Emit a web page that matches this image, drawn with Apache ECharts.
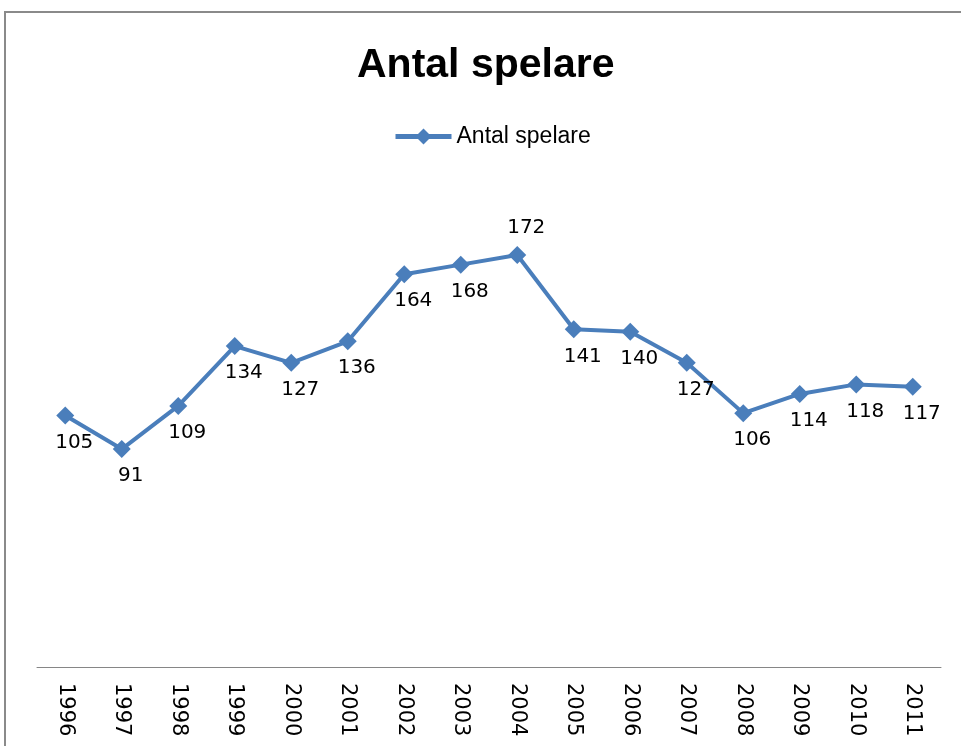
<!DOCTYPE html>
<html>
<head>
<meta charset="utf-8">
<script src="https://cdn.jsdelivr.net/npm/echarts@6/dist/echarts.min.js"></script>
<style>
  html, body { margin: 0; padding: 0; background: #fff; }
  #chart { width: 961px; height: 746px; }
</style>
</head>
<body>
<div id="chart"></div>
<script>
var years = ['1996', '1997', '1998', '1999', '2000', '2001', '2002', '2003',
             '2004', '2005', '2006', '2007', '2008', '2009', '2010', '2011'];
var players = [105, 91, 109, 134, 127, 136, 164, 168, 172, 141, 140, 127, 106, 114, 118, 117];
var labelAbove = ['2004'];

var chart = echarts.init(document.getElementById('chart'));

var points = players.map(function (v, i) {
    var item = { value: v };
    if (labelAbove.indexOf(years[i]) >= 0) {
        item.label = { position: 'top' };
    }
    return item;
});

var option = {
    backgroundColor: '#fff',
    animation: false,
    title: {
        text: 'Antal spelare',
        left: 352,
        top: 40,
        textStyle: {
            fontFamily: 'Liberation Sans',
            fontWeight: 'bold',
            fontSize: 41,
            color: '#000'
        }
    },
    legend: {
        top: 120,
        left: 388,
        itemWidth: 56,
        itemHeight: 20,
        itemGap: 6,
        lineStyle: { width: 5 },
        textStyle: { fontFamily: 'Liberation Sans', fontSize: 23, color: '#000' },
        data: ['Antal spelare']
    },
    graphic: [{
        type: 'rect',
        shape: { x: 5, y: 12, width: 1000, height: 800 },
        style: { fill: 'none', stroke: '#8a8a8a', lineWidth: 2 },
        silent: true
    }],
    grid: {
        left: 37,
        right: 20,
        top: 188,
        bottom: 79
    },
    xAxis: {
        type: 'category',
        data: years,
        boundaryGap: true,
        axisLine: { lineStyle: { color: '#868686', width: 1 } },
        axisTick: { show: false },
        axisLabel: {
            rotate: -90,
            margin: 16,
            color: '#000',
            fontFamily: 'DejaVu Sans',
            fontSize: 21
        }
    },
    yAxis: {
        type: 'value',
        min: 0,
        max: 200,
        show: false,
        splitLine: { show: false }
    },
    series: [{
        name: 'Antal spelare',
        type: 'line',
        data: points,
        symbol: 'diamond',
        symbolSize: 18,
        itemStyle: { color: '#4a7ebb' },
        lineStyle: { color: '#4a7ebb', width: 4 },
        label: {
            show: true,
            position: 'bottom',
            distance: 8,
            offset: [9, 0],
            color: '#000',
            fontFamily: 'DejaVu Sans',
            fontSize: 20
        }
    }]
};

chart.setOption(option);
</script>
</body>
</html>
